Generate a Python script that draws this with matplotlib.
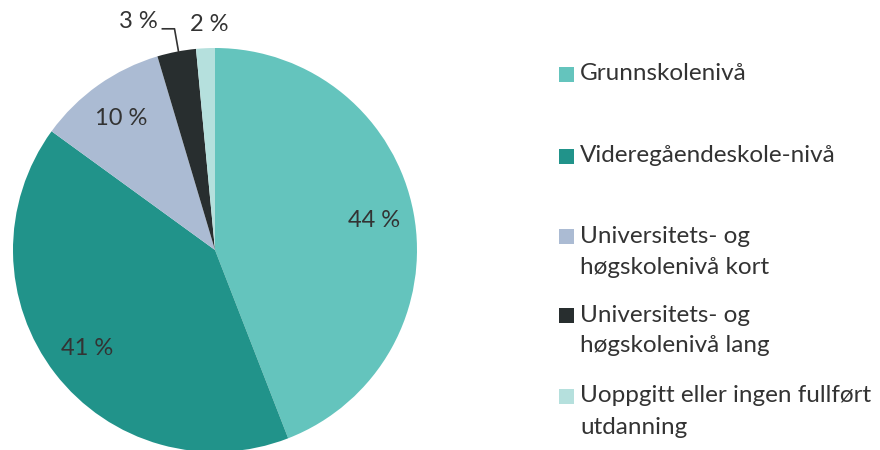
import matplotlib.pyplot as plt
from matplotlib.patches import Rectangle
import numpy as np

categories = ['Grunnskolenivå', 'Videregåendeskole-nivå',
              'Universitets- og\nhøgskolenivå kort',
              'Universitets- og\nhøgskolenivå lang',
              'Uoppgitt eller ingen fullført\nutdanning']
values = [44.1, 40.9, 10.4, 3.1, 1.5]
pct_labels = ['44 %', '41 %', '10 %', '3 %', '2 %']
colors = ['#64c4bd', '#21938a', '#abbbd3', '#282e2f', '#b5e0dd']

plt.rcParams['font.family'] = ['Lato', 'DejaVu Sans']
txt_color = '#333333'

W, H = 880, 450
fig = plt.figure(figsize=(W / 100, H / 100), dpi=100)

# pie axes: centre at (215, 250) px from top-left, radius 202 px
R = 202
cx, cy = 215, 250
ax = fig.add_axes([0, 0, 430 / W, 1])

wedges, texts, autotexts = ax.pie(values, colors=colors, startangle=90,
                                  counterclock=False, radius=1,
                                  autopct=lambda p: '', pctdistance=0.8,
                                  wedgeprops=dict(linewidth=0))
ax.set_aspect('auto')
ax.set_xlim(-cx / R, (430 - cx) / R)
ax.set_ylim(-(H - cy) / R, cy / R)
ax.axis('off')

for w, lab, at in zip(wedges, pct_labels, autotexts):
    at.set_text(lab)
    at.set_fontsize(17)
    at.set_color(txt_color)

# small slices: labels outside
w3 = wedges[3]
a3 = np.deg2rad((w3.theta1 + w3.theta2) / 2)
x0, y0 = np.cos(a3), np.sin(a3)
ax.plot([x0 + 0.01, x0 - 0.01, x0 - 0.07], [y0, 1.095, 1.095],
        color=txt_color, lw=1.2, clip_on=False)
autotexts[3].set_position((x0 - 0.19, 1.13))
autotexts[3].set_ha('center')
autotexts[3].set_va('center')

w4 = wedges[4]
a4 = np.deg2rad((w4.theta1 + w4.theta2) / 2)
autotexts[4].set_position((np.cos(a4) + 0.02, 1.115))
autotexts[4].set_ha('center')
autotexts[4].set_va('center')

# legend drawn manually
rows_y = [74, 156, 236, 315, 396]
line_gap = 31
sq = 15
for c, lab, yy in zip(colors, categories, rows_y):
    fig.patches.append(Rectangle((559 / W, 1 - (yy + sq / 2) / H), sq / W, sq / H,
                                 transform=fig.transFigure, facecolor=c,
                                 edgecolor='none'))
    for i, line in enumerate(lab.split('\n')):
        fig.text(580 / W, 1 - (yy + i * line_gap) / H, line, fontsize=17.5,
                 color=txt_color, va='center', ha='left')

fig.savefig('out.png', dpi=100)
